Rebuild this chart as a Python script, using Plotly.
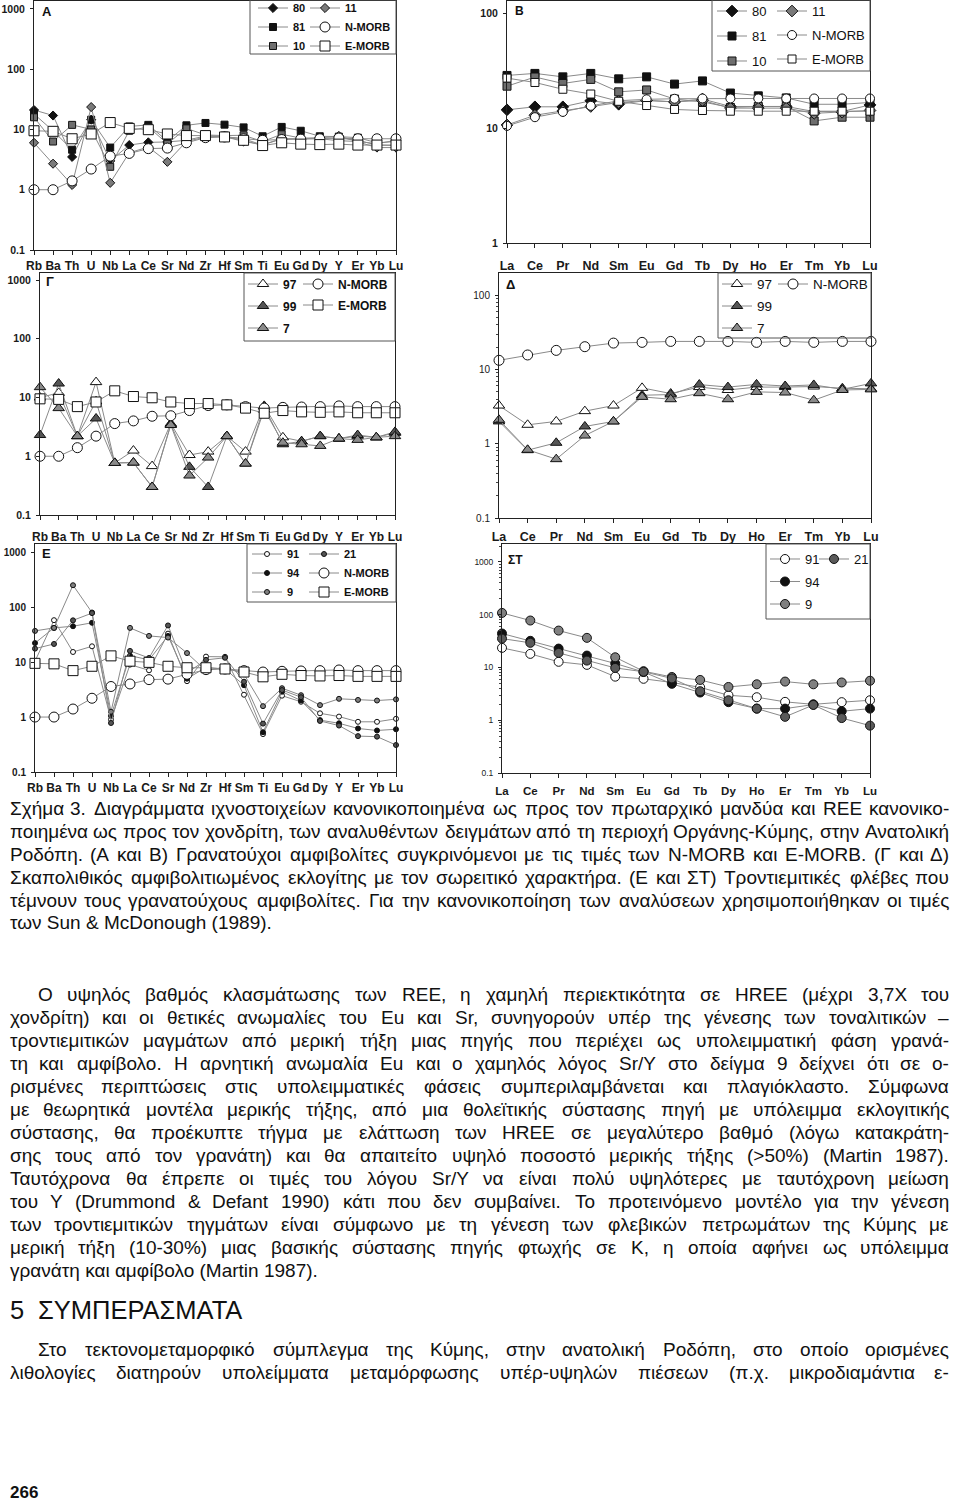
import math
import plotly.graph_objects as go

W, H = 960, 1505

# ---------------- categories ----------------
spider_elements = ["Rb", "Ba", "Th", "U", "Nb", "La", "Ce", "Sr", "Nd", "Zr",
                   "Hf", "Sm", "Ti", "Eu", "Gd", "Dy", "Y", "Er", "Yb", "Lu"]
ree_elements = ["La", "Ce", "Pr", "Nd", "Sm", "Eu", "Gd", "Tb", "Dy", "Ho",
                "Er", "Tm", "Yb", "Lu"]

# ---------------- reference MORB values ----------------
nmorb_spider = [1.0, 1.0, 1.4, 2.2, 3.6, 4.0, 4.8, 4.9, 6.0, 7.3,
                7.5, 7.0, 6.6, 6.8, 6.9, 7.0, 7.2, 7.0, 7.0, 7.0]
emorb_spider = [9.5, 9.3, 7.0, 8.4, 13.0, 10.4, 9.9, 8.4, 7.9, 7.9,
                7.5, 6.6, 5.4, 6.0, 5.7, 5.6, 5.7, 5.5, 5.5, 5.5]
nmorb_ree_B = [10.5, 12.5, 13.9, 15.7, 17.4, 17.9, 18.1, 18.2, 18.2, 18.2,
               18.2, 18.2, 18.2, 18.2]
emorb_ree_B = [27.4, 25.1, 21.9, 19.9, 17.2, 15.8, 14.6, 14.3, 14.1, 14.1,
               14.1, 14.1, 14.1, 14.1]
nmorb_ree_D = [13.3, 15.7, 18.1, 20.3, 22.7, 23.2, 23.9, 23.9, 23.9, 23.2,
               23.9, 23.2, 23.9, 23.9]

# ---------------- panel A (spider) ----------------
s80_A = [21, 17, 3.5, 14.5, 3.0, 5.5, 6.1, 6.2, 6.6, 7.8,
         7.6, 7.0, 5.5, 7.0, 7.0, 7.0, 6.5, 6.3, 5.8, 6.6]
s81_A = [18, 9.5, 4.6, 14.5, 5.0, 11.2, 11.9, 6.4, 11.7, 12.8,
         12.0, 10.8, 7.7, 11.0, 9.5, 7.7, 7.6, 7.3, 6.0, 6.3]
s10_A = [15.9, 6.3, 11.9, 10.0, 2.4, 9.5, 11.0, 5.8, 10.4, 8.1,
         7.9, 8.0, 6.3, 8.3, 7.2, 7.1, 7.2, 6.6, 5.5, 5.4]
s11_A = [6.0, 2.7, 1.2, 23.5, 1.3, 4.1, 5.1, 2.9, 6.3, 7.5,
         7.6, 6.3, 5.6, 7.0, 6.9, 7.3, 7.8, 6.2, 5.0, 5.0]

# ---------------- panel B (REE) ----------------
s80_B = [14.5, 15.4, 15.4, 17.4, 16.2, 17.5, 17.0, 18.0, 15.5, 15.5, 15.5, 14.0, 14.0, 16.0]
s81_B = [28.9, 30.1, 28.1, 30.1, 27.0, 28.1, 24.3, 25.9, 20.3, 19.2, 18.4, 16.2, 16.2, 16.8]
s10_B = [23.3, 28.0, 24.6, 26.7, 20.8, 21.6, 18.0, 17.0, 15.2, 15.5, 15.5, 11.6, 12.5, 12.5]
s11_B = [10.7, 13.0, 14.2, 15.5, 16.8, 17.5, 17.0, 17.5, 15.0, 15.0, 15.0, 13.5, 13.8, 14.3]

# ---------------- panel Γ (spider) ----------------
s97_G = [10.0, 12.0, 2.2, 18.3, 0.77, 1.25, 0.68, 3.6, 1.05, 1.2,
         2.2, 1.2, 7.2, 2.1, 1.8, 2.2, 2.0, 2.2, 2.1, 2.5]
s99_G = [2.3, 17.3, 2.2, 4.4, 0.77, 0.78, 0.30, 3.5, 0.66, 0.30,
         2.2, 0.75, 7.0, 1.6, 1.8, 2.2, 2.0, 2.3, 2.1, 2.6]
s7_G = [15.0, 6.6, 2.2, 8.6, 0.77, 0.78, 0.30, 3.4, 0.47, 0.95,
        2.2, 0.75, 6.2, 1.7, 1.6, 1.5, 2.0, 1.9, 2.1, 2.2]

# ---------------- panel Δ (REE) ----------------
s97_D = [3.27, 1.8, 2.0, 2.75, 3.27, 5.66, 4.75, 5.8, 5.3, 5.8, 5.8, 5.9, 5.6, 5.5]
s99_D = [2.0, 0.82, 1.03, 1.71, 2.0, 4.5, 4.6, 6.27, 5.8, 6.3, 6.0, 6.2, 5.4, 6.5]
s7_D = [2.1, 0.83, 0.62, 1.29, 2.0, 4.28, 3.98, 4.8, 3.98, 5.0, 4.9, 3.86, 5.3, 5.4]

# ---------------- panel E (spider) ----------------
s91_E = [10.4, 58, 15.3, 19.4, 0.9, 9.0, 7.1, 33, 4.5, 12.6,
         12.5, 2.55, 0.49, 2.45, 1.9, 1.17, 1.02, 0.82, 0.82, 0.93]
s94_E = [22.2, 42, 45, 52, 1.05, 13.1, 11.0, 30, 5.0, 8.0,
         7.5, 3.8, 0.53, 2.9, 2.0, 0.88, 0.77, 0.62, 0.57, 0.6]
s9_E = [37, 42, 251, 80, 1.25, 42, 30, 28, 14.6, 7.0,
        8.1, 6.0, 1.58, 3.35, 2.5, 1.65, 2.15, 2.05, 2.0, 2.1]
s21_E = [17.6, 21.4, 57.6, 78, 0.78, 16, 11.9, 46.5, 6.35, 11.0,
         12.0, 4.4, 0.76, 3.1, 2.3, 0.85, 0.70, 0.45, 0.44, 0.31]

# ---------------- panel ΣΤ (REE) ----------------
s91_ST = [23.5, 18.1, 12.8, 11.2, 6.7, 6.1, 5.2, 4.2, 2.97, 2.73, 2.23, 2.0, 2.2, 2.39]
s94_ST = [44, 32, 22.8, 16.8, 11.9, 8.2, 4.9, 3.35, 2.2, 1.66, 1.66, 1.98, 1.48, 1.66]
s9_ST = [108, 77.6, 50, 36.4, 15.6, 8.5, 6.6, 5.8, 4.27, 4.8, 5.4, 4.8, 5.2, 5.6]
s21_ST = [35.3, 29.3, 18.9, 13.5, 9.8, 8.3, 6.2, 3.55, 2.39, 1.66, 1.16, 1.95, 1.1, 0.79]

tick_vals = [0.1, 1, 10, 100, 1000]
tick_text = ["0.1", "1", "10", "100", "1000"]

FONT = "Liberation Sans, Arial, sans-serif"
LINE_GRAY = "#8a8a8a"


def xp(px):
    return px / W


def yp(py):
    return 1 - py / H


fig = go.Figure()

# panel geometry (pixels)
panels = {
    "A": dict(k=1, x0=34, x1=396, y0=1, y1=250, yr=[-1, 3.13], cats=spider_elements, lab_y=266, ytf=10.5, yb=True, xf=12),
    "B": dict(k=2, x0=507, x1=870, y0=1, y1=243, yr=[0, 2.11], cats=ree_elements, lab_y=265, ytf=10.5, yb=True, xf=12.5),
    "G": dict(k=3, x0=40, x1=395, y0=273, y1=515, yr=[-1, 3.12], cats=spider_elements, lab_y=537, ytf=10.5, yb=True, xf=12),
    "D": dict(k=4, x0=499, x1=871, y0=273, y1=518, yr=[-1, 2.30], cats=ree_elements, lab_y=536, ytf=10, yb=False, xf=12.5),
    "E": dict(k=5, x0=35, x1=396, y0=544, y1=772, yr=[-1, 3.15], cats=spider_elements, lab_y=788, ytf=10, yb=True, xf=12),
    "S": dict(k=6, x0=502, x1=870, y0=544, y1=773, yr=[-1, 3.34], cats=ree_elements, lab_y=791, ytf=8.5, yb=False, xf=11.5),
}


def axname(k, a):
    return a + ("" if k == 1 else str(k))


for key, p in panels.items():
    k = p["k"]
    lo, hi = p["yr"]
    tv = [v for v in tick_vals if lo - 1e-6 <= math.log10(v) <= hi + 1e-6]
    tt = [tick_text[tick_vals.index(v)] for v in tv]
    xa = dict(
        domain=[xp(p["x0"]), xp(p["x1"])], anchor=axname(k, "y"),
        type="category", categoryorder="array", categoryarray=p["cats"],
        range=[0, len(p["cats"]) - 1], showline=True, linecolor="#222", linewidth=1,
        mirror=True, ticks="outside", ticklen=4, tickcolor="#222",
        tickmode="array", tickvals=p["cats"], ticktext=p["cats"], tickangle=0,
        tickfont=dict(family=FONT, size=p["xf"], color="#1a1a1a", weight="bold"),
        ticklabelstandoff=max(p["lab_y"] - p["y1"] - 15, 0),
        showgrid=False, zeroline=False, fixedrange=True,
    )
    ya = dict(
        domain=[yp(p["y1"]), yp(p["y0"])], anchor=axname(k, "x"),
        type="log", range=p["yr"], showline=True, linecolor="#222", linewidth=1,
        mirror=True, ticks="outside", ticklen=3, tickcolor="#222",
        tickmode="array", tickvals=tv, ticktext=tt,
        tickfont=dict(family=FONT, size=p["ytf"], color="#1a1a1a",
                      weight="bold" if p["yb"] else "normal"),
        ticklabelstandoff=3,
        showgrid=False, zeroline=False, fixedrange=True,
    )
    if key in ("D", "S"):
        ya["minor"] = dict(ticks="outside", ticklen=2, tickcolor="#444", dtick="D1", showgrid=False)
    fig.update_layout(**{axname(k, "xaxis"): xa, axname(k, "yaxis"): ya})


def add(panel, cats, vals, name, symbol, fill, size, legend):
    k = panels[panel]["k"]
    fig.add_trace(go.Scatter(
        x=cats, y=vals, name=name, mode="lines+markers",
        xaxis=axname(k, "x"), yaxis=axname(k, "y"),
        line=dict(color=LINE_GRAY, width=1),
        marker=dict(symbol=symbol, color=fill, size=size,
                    line=dict(color="#111", width=1)),
        cliponaxis=False, legend=legend, legendgroup=panel + "_" + name,
        showlegend=True,
    ))


# Panel A
add("A", spider_elements, s80_A, "80", "diamond", "#111111", 7, "legend")
add("A", spider_elements, s81_A, "81", "square", "#111111", 7, "legend")
add("A", spider_elements, s10_A, "10", "square", "#6e6e6e", 7, "legend")
add("A", spider_elements, s11_A, "11", "diamond", "#7a7a7a", 7, "legend2")
add("A", spider_elements, nmorb_spider, "N-MORB", "circle", "white", 10, "legend2")
add("A", spider_elements, emorb_spider, "E-MORB", "square", "white", 10, "legend2")

# Panel B
add("B", ree_elements, s80_B, "80", "diamond", "#111111", 9, "legend3")
add("B", ree_elements, s81_B, "81", "square", "#111111", 8, "legend3")
add("B", ree_elements, s10_B, "10", "square", "#6e6e6e", 8, "legend3")
add("B", ree_elements, s11_B, "11", "diamond", "#7a7a7a", 9, "legend4")
add("B", ree_elements, nmorb_ree_B, "N-MORB", "circle", "white", 9, "legend4")
add("B", ree_elements, emorb_ree_B, "E-MORB", "square", "white", 8, "legend4")

# Panel Γ
add("G", spider_elements, s97_G, "97", "triangle-up", "white", 10, "legend5")
add("G", spider_elements, s99_G, "99", "triangle-up", "#555555", 10, "legend5")
add("G", spider_elements, s7_G, "7", "triangle-up", "#8a8a8a", 10, "legend5")
add("G", spider_elements, nmorb_spider, "N-MORB", "circle", "white", 10, "legend6")
add("G", spider_elements, emorb_spider, "E-MORB", "square", "white", 10, "legend6")

# Panel Δ
add("D", ree_elements, s97_D, "97", "triangle-up", "white", 10, "legend7")
add("D", ree_elements, s99_D, "99", "triangle-up", "#555555", 10, "legend7")
add("D", ree_elements, s7_D, "7", "triangle-up", "#8a8a8a", 10, "legend7")
add("D", ree_elements, nmorb_ree_D, "N-MORB", "circle", "white", 10, "legend8")

# Panel E
add("E", spider_elements, s91_E, "91", "circle", "white", 5, "legend9")
add("E", spider_elements, s94_E, "94", "circle", "#111111", 5, "legend9")
add("E", spider_elements, s9_E, "9", "circle", "#808080", 5, "legend9")
add("E", spider_elements, s21_E, "21", "circle", "#555555", 5, "legend10")
add("E", spider_elements, nmorb_spider, "N-MORB", "circle", "white", 10, "legend10")
add("E", spider_elements, emorb_spider, "E-MORB", "square", "white", 10, "legend10")

# Panel ΣΤ
add("S", ree_elements, s91_ST, "91", "circle", "white", 9, "legend11")
add("S", ree_elements, s94_ST, "94", "circle", "#111111", 9, "legend11")
add("S", ree_elements, s9_ST, "9", "circle", "#808080", 9, "legend11")
add("S", ree_elements, s21_ST, "21", "circle", "#5a5a5a", 9, "legend12")


def legend_cfg(left_px, row1_py, fs, spacing, bold):
    h = max(fs * 1.3, 16) + 3
    top = row1_py - 5 - h / 2
    return dict(x=xp(left_px), y=yp(top), xanchor="left", yanchor="top",
                bgcolor="rgba(0,0,0,0)", borderwidth=0, itemwidth=30,
                tracegroupgap=max(spacing - h, 0), orientation="v",
                font=dict(family=FONT, size=fs, color="#111",
                          weight="bold" if bold else "normal"))


legends = {
    "legend": legend_cfg(253, 8, 11, 16, True),
    "legend2": legend_cfg(305, 8, 11, 16, True),
    "legend3": legend_cfg(712, 11, 13, 25, False),
    "legend4": legend_cfg(772, 11, 13, 24, False),
    "legend5": legend_cfg(243, 284, 12, 22, True),
    "legend6": legend_cfg(298, 284, 12, 21, True),
    "legend7": legend_cfg(717, 284, 13.5, 22, False),
    "legend8": legend_cfg(773, 284, 13.5, 22, False),
    "legend9": legend_cfg(247, 554, 11, 17.5, True),
    "legend10": legend_cfg(304, 554, 11, 17.5, True),
    "legend11": legend_cfg(765, 559, 13, 22.5, False),
    "legend12": legend_cfg(814, 559, 13, 22.5, False),
}

shapes = []
legend_boxes = [(250, 0, 396, 54), (712, 0, 870, 71), (244, 273, 395, 341),
                (718, 273, 871, 338), (247, 544, 396, 602), (766, 544, 870, 619)]
for (a, b, c, d) in legend_boxes:
    shapes.append(dict(type="rect", xref="paper", yref="paper",
                       x0=xp(a), x1=xp(c), y0=yp(d), y1=yp(b),
                       line=dict(color="#555", width=1), fillcolor="rgba(0,0,0,0)",
                       layer="above"))

annotations = []
panel_labels = [("A", 40, 11, 13), ("B", 513, 11, 12), ("Γ", 44, 282, 13),
                ("Δ", 504, 284, 13), ("E", 40, 553, 13), ("ΣT", 506, 560, 12)]
for txt, x, y, fs in panel_labels:
    annotations.append(dict(text=txt, x=xp(x), y=yp(y), xref="paper", yref="paper",
                            xanchor="left", yanchor="middle", showarrow=False,
                            font=dict(family=FONT, size=fs, color="#111", weight="bold")))

# ---------------- text below the figure ----------------
CW = {}
for c, w in zip("abcdefghijklmnopqrstuvwxyz",
                [556, 556, 500, 556, 556, 278, 556, 556, 222, 222, 500, 222, 833, 556, 556, 556, 556,
                 333, 500, 278, 556, 500, 722, 500, 500, 500]):
    CW[c] = w
for c, w in zip("ABCDEFGHIJKLMNOPQRSTUVWXYZ",
                [667, 667, 722, 722, 667, 611, 778, 722, 278, 500, 667, 556, 833, 722, 778, 667, 778,
                 722, 667, 611, 722, 667, 944, 667, 667, 611]):
    CW[c] = w
for c in "0123456789":
    CW[c] = 556
CW.update({" ": 278, ".": 278, ",": 278, "-": 333, "(": 333, ")": 333, "%": 889, "&": 667,
           "/": 278, ">": 584, "–": 556})
CW.update(dict(zip("αβγδεζηθικλμνξοπρσςτυφχψω",
                   [578, 575, 500, 557, 446, 441, 556, 556, 222, 500, 500, 576, 500, 453, 556,
                    688, 569, 619, 486, 395, 546, 722, 500, 709, 780])))
CW.update({"ά": 578, "έ": 446, "ή": 556, "ί": 222, "ό": 556, "ύ": 546, "ώ": 780, "ϊ": 222})
CW.update(dict(zip("ΑΒΓΔΕΖΗΘΙΚΛΜΝΞΟΠΡΣΤΥΦΧΨΩ",
                   [667, 667, 551, 668, 667, 611, 722, 778, 278, 667, 668, 833, 722, 650, 778,
                    722, 667, 618, 611, 667, 798, 667, 835, 747])))


def twidth(s, fs):
    return sum(CW.get(c, 556) for c in s) / 1000.0 * fs


def text_line(s, y, x_left, x_right, fs, justify=True, bold=False):
    font = dict(family=FONT, size=fs, color="#111", weight="bold" if bold else "normal")
    base = dict(xref="paper", yref="paper", yanchor="middle", showarrow=False,
                y=yp(y), font=font, borderpad=0)
    words = s.split(" ")
    if not justify or len(words) == 1:
        annotations.append(dict(base, text=s, x=xp(x_left), xanchor="left"))
        return
    ws = [twidth(w, fs) for w in words]
    gap = (x_right - x_left - sum(ws)) / (len(words) - 1)
    x = x_left
    for i, (w, ww) in enumerate(zip(words, ws)):
        if i == 0:
            annotations.append(dict(base, text=w, x=xp(x_left), xanchor="left"))
        elif i == len(words) - 1:
            annotations.append(dict(base, text=w, x=xp(x_right), xanchor="right"))
        else:
            annotations.append(dict(base, text=w, x=xp(x + ww / 2), xanchor="center"))
        x += ww + gap


caption_lines = [
    "Σχήμα 3. Διαγράμματα ιχνοστοιχείων κανονικοποιημένα ως προς τον πρωταρχικό μανδύα και REE κανονικο-",
    "ποιημένα ως προς τον χονδρίτη, των αναλυθέντων δειγμάτων από τη περιοχή Οργάνης-Κύμης, στην Ανατολική",
    "Ροδόπη. (Α και Β) Γρανατούχοι αμφιβολίτες συγκρινόμενοι με τις τιμές των N-MORB και E-MORB. (Γ και Δ)",
    "Σκαπολιθικός αμφιβολιτιωμένος εκλογίτης με τον σωρειτικό χαρακτήρα. (Ε και ΣΤ) Τροντιεμιτικές φλέβες που",
    "τέμνουν τους γρανατούχους αμφιβολίτες. Για την κανονικοποίηση των αναλύσεων χρησιμοποιήθηκαν οι τιμές",
    "των Sun & McDonough (1989).",
]
body_lines = [
    "Ο υψηλός βαθμός κλασμάτωσης των REE, η χαμηλή περιεκτικότητα σε HREE (μέχρι 3,7X του",
    "χονδρίτη) και οι θετικές ανωμαλίες του Eu και Sr, συνηγορούν υπέρ της γένεσης των τοναλιτικών –",
    "τροντιεμιτικών μαγμάτων από μερική τήξη μιας πηγής που περιέχει ως υπολειμματική φάση γρανά-",
    "τη και αμφίβολο. Η αρνητική ανωμαλία Eu και ο χαμηλός λόγος Sr/Y στο δείγμα 9 δείχνει ότι σε ο-",
    "ρισμένες περιπτώσεις στις υπολειμματικές φάσεις συμπεριλαμβάνεται και πλαγιόκλαστο. Σύμφωνα",
    "με θεωρητικά μοντέλα μερικής τήξης, από μια θολεϊτικής σύστασης πηγή με υπόλειμμα εκλογιτικής",
    "σύστασης, θα προέκυπτε τήγμα με ελάττωση των HREE σε μεγαλύτερο βαθμό (λόγω κατακράτη-",
    "σης τους από τον γρανάτη) και θα απαιτείτο υψηλό ποσοστό μερικής τήξης (>50%) (Martin 1987).",
    "Ταυτόχρονα θα έπρεπε οι τιμές του λόγου Sr/Y να είναι πολύ υψηλότερες με ταυτόχρονη μείωση",
    "του Y (Drummond & Defant 1990) κάτι που δεν συμβαίνει. Το προτεινόμενο μοντέλο για την γένεση",
    "των τροντιεμιτικών τηγμάτων είναι σύμφωνο με τη γένεση των φλεβικών πετρωμάτων της Κύμης με",
    "μερική τήξη (10-30%) μιας βασικής σύστασης πηγής φτωχής σε Κ, η οποία αφήνει ως υπόλειμμα",
    "γρανάτη και αμφίβολο (Martin 1987).",
]
final_lines = [
    "Στο τεκτονομεταμορφικό σύμπλεγμα της Κύμης, στην ανατολική Ροδόπη, στο οποίο ορισμένες",
    "λιθολογίες διατηρούν υπολείμματα μεταμόρφωσης υπέρ-υψηλών πιέσεων (π.χ. μικροδιαμάντια ε-",
]

FS = 19
for i, s in enumerate(caption_lines):
    text_line(s, 808 + 23 * i, 9, 950, FS, justify=(i < len(caption_lines) - 1))
for i, s in enumerate(body_lines):
    text_line(s, 994 + 23 * i, 37 if i == 0 else 9, 950, FS, justify=(i < len(body_lines) - 1))
text_line("5", 1310, 9, 950, 25.5, justify=False)
text_line("ΣΥΜΠΕΡΑΣΜΑΤΑ", 1310, 37, 950, 25.5, justify=False)
for i, s in enumerate(final_lines):
    text_line(s, 1349 + 23 * i, 37 if i == 0 else 9, 950, FS, justify=True)
text_line("266", 1492, 9, 950, 17, justify=False, bold=True)

fig.update_layout(
    width=W, height=H,
    margin=dict(l=0, r=0, t=0, b=0, autoexpand=False),
    paper_bgcolor="white", plot_bgcolor="white",
    shapes=shapes, annotations=annotations,
    hovermode=False,
    **legends,
)

fig.write_html("out.html",
               config={"displayModeBar": False, "staticPlot": True},
               post_script="document.body.style.margin='0px'; document.body.style.overflow='hidden';")
